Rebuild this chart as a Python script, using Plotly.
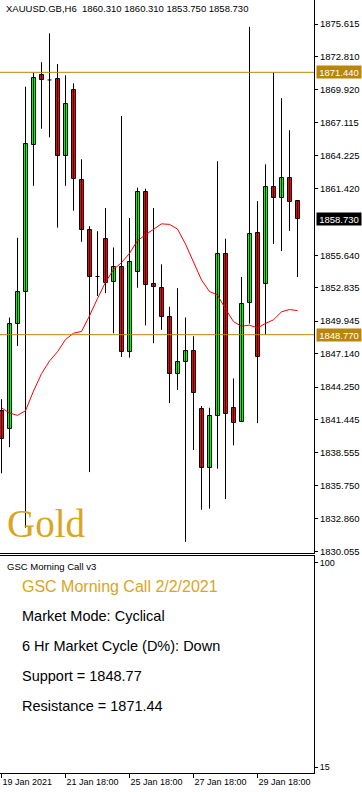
import plotly.graph_objects as go

# ---- data ----
idx = list(range(38))
opens = [1842.2, 1840.6, 1849.7, 1852.5, 1865.2, 1871.18, 1870.78, 1870.84, 1864.24, 1869.88,
         1862.11, 1857.85, 1853.8, 1857.0, 1853.31, 1854.58, 1847.3, 1854.21, 1861.08, 1853.13,
         1852.84, 1850.31, 1845.4, 1846.42, 1847.4, 1842.37, 1837.26, 1841.75, 1855.72, 1842.46,
         1841.25, 1851.49, 1857.58, 1853.19, 1861.57, 1860.55, 1862.28, 1860.31]
highs = [1843.2, 1850.25, 1857.15, 1870.2, 1871.44, 1872.31, 1874.81, 1872.16, 1871.18, 1870.49,
         1863.93, 1858.14, 1857.71, 1859.72, 1856.31, 1867.67, 1858.85, 1861.48, 1861.39, 1859.72,
         1854.85, 1851.18, 1852.79, 1850.25, 1848.64, 1842.61, 1842.46, 1863.76, 1857.06, 1844.99,
         1853.76, 1875.37, 1860.31, 1863.49, 1871.44, 1869.21, 1866.43, 1860.31]
lows = [1836.8, 1839.05, 1847.8, 1832.1, 1861.64, 1866.57, 1865.83, 1858.02, 1861.64, 1859.49,
        1856.8, 1836.9, 1852.11, 1852.36, 1848.89, 1846.85, 1846.79, 1852.82, 1849.57, 1848.03,
        1849.19, 1842.86, 1844.0, 1830.87, 1838.81, 1833.64, 1833.74, 1837.2, 1834.57, 1839.21,
        1841.25, 1849.73, 1841.13, 1848.77, 1856.62, 1856.0, 1857.74, 1853.75]
closes = [1839.8, 1849.7, 1852.5, 1865.25, 1870.95, 1870.75, 1870.78, 1864.21, 1868.68, 1862.22,
          1857.85, 1853.72, 1853.8, 1853.25, 1854.58, 1847.3, 1855.08, 1861.08, 1853.1, 1852.91,
          1850.3, 1845.4, 1846.4, 1847.4, 1843.76, 1837.26, 1841.75, 1855.72, 1841.9, 1841.13,
          1851.45, 1857.43, 1846.85, 1861.57, 1860.55, 1862.28, 1860.27, 1858.73]
ma = [1842.45, 1842.0, 1841.8, 1842.2, 1843.9, 1845.4, 1846.5, 1847.3, 1848.35, 1848.9,
      1849.05, 1850.4, 1851.9, 1853.3, 1854.4, 1855.0, 1855.8, 1856.9, 1857.4, 1857.9,
      1858.35, 1858.3, 1857.9, 1856.6, 1855.0, 1853.5, 1852.5, 1852.2, 1851.0, 1849.9,
      1849.5, 1849.6, 1849.35, 1849.75, 1850.05, 1850.75, 1850.95, 1850.85]

resistance = 1871.44
support = 1848.77
last_price = 1858.73

price_ticks = [1875.615, 1872.810, 1869.920, 1867.115, 1864.225, 1861.420, 1855.640, 1852.835,
               1849.945, 1847.140, 1844.250, 1841.445, 1838.555, 1835.750, 1832.860, 1830.055]
price_tick_text = ["%.3f" % v for v in price_ticks]
date_tick_pos = [0, 8, 16, 24, 32]
date_tick_text = ["19 Jan 2021", "21 Jan 18:00", "25 Jan 18:00", "27 Jan 18:00", "29 Jan 18:00"]
ind_ticks = [100, 15]

header = "XAUUSD.GB,H6\u00a0\u00a01860.310\u00a01860.310\u00a01853.750\u00a01858.730"
panel_title = "GSC Morning Call v3"
info_title = "GSC Morning Call 2/2/2021"
info_lines = ["Market Mode: Cyclical", "6 Hr Market Cycle (D%): Down",
              "Support = 1848.77", "Resistance = 1871.44"]

# ---- figure ----
W, H = 362, 792
XR = 314 / W
GOLD_LINE = "#B8860B"
GOLD_TEXT = "#DAA520"
FONT = "Liberation Sans"
UP, DOWN = "#00FF00", "#FF0000"
HALF = 0.25  # half body width in bar units

# wicks (and doji dashes) as one segmented line trace
wx, wy = [], []
for i, o, h, l, c in zip(idx, opens, highs, lows, closes):
    wx += [i, i, None]
    wy += [l, h, None]
    if o == c:
        wx += [i - HALF, i + HALF, None]
        wy += [o, c, None]

body_idx = [i for i in idx if opens[i] != closes[i]]
body_base = [min(opens[i], closes[i]) for i in body_idx]
body_len = [abs(closes[i] - opens[i]) for i in body_idx]
body_col = [UP if closes[i] > opens[i] else DOWN for i in body_idx]

fig = go.Figure()
fig.add_trace(go.Scatter(x=wx, y=wy, mode="lines", line=dict(color="black", width=1),
                         xaxis="x", yaxis="y", hoverinfo="skip", connectgaps=False))
fig.add_trace(go.Bar(x=body_idx, y=body_len, base=body_base, width=2 * HALF,
                     marker=dict(color=body_col, line=dict(color="black", width=1)),
                     xaxis="x", yaxis="y", hoverinfo="skip"))
fig.add_trace(go.Scatter(x=idx, y=ma, mode="lines", line=dict(color="#FF0000", width=1),
                         xaxis="x", yaxis="y", hoverinfo="skip"))
# empty indicator panel trace
fig.add_trace(go.Scatter(x=[None], y=[None], xaxis="x2", yaxis="y2", showlegend=False))

px_per = 11.574
y_top = 1875.615 + 24 / px_per
y_bot = 1875.615 - 529 / px_per
xr = [-1.5 / 8, (314 - 1.5) / 8]

axis_common = dict(showgrid=False, zeroline=False, showline=True, mirror=True,
                   linecolor="black", linewidth=1)

fig.update_layout(
    width=W, height=H, margin=dict(l=0, r=0, t=0, b=0),
    paper_bgcolor="white", plot_bgcolor="white", showlegend=False,
    bargap=0, bargroupgap=0, barmode="overlay", hovermode=False,
    xaxis=dict(domain=[0, XR], range=xr, anchor="y", showticklabels=False, ticks="",
               **axis_common),
    yaxis=dict(domain=[1 - 553 / H, 1], range=[y_bot, y_top], side="right", anchor="x",
               tickvals=price_ticks, ticktext=price_tick_text, ticks="outside", ticklen=3,
               tickcolor="black", automargin=False,
               tickfont=dict(family=FONT, size=9.5, color="black"), **axis_common),
    xaxis2=dict(domain=[0, XR], range=xr, anchor="y2", tickvals=date_tick_pos,
                ticktext=date_tick_text, ticks="outside", ticklen=4, tickcolor="black",
                ticklabelposition="outside right", automargin=False,
                tickfont=dict(family=FONT, size=9, color="black"), **axis_common),
    yaxis2=dict(domain=[1 - 773 / H, 1 - 556 / H], range=[12.5, 102.9], side="right",
                anchor="x2", tickvals=ind_ticks, ticks="outside", ticklen=3,
                tickcolor="black", automargin=False,
                tickfont=dict(family=FONT, size=9, color="black"), **axis_common),
)

for lvl in (resistance, support):
    fig.add_shape(type="line", xref="paper", yref="y", x0=0, x1=XR, y0=lvl, y1=lvl,
                  line=dict(color=GOLD_LINE, width=1))

def price_box(val, bg):
    fig.add_annotation(xref="paper", yref="y", x=316 / W, y=val, xanchor="left",
                       yanchor="middle", text="%.3f" % val, showarrow=False,
                       bgcolor=bg, borderpad=1, width=42, height=10, align="center",
                       font=dict(family=FONT, size=9.5, color="white"))

price_box(resistance, GOLD_LINE)
price_box(support, GOLD_LINE)
price_box(last_price, "black")

fig.add_annotation(xref="paper", yref="paper", x=4 / W, y=1 - 9 / H, xanchor="left",
                   yanchor="middle", text=header, showarrow=False,
                   font=dict(family=FONT, size=9.5, color="black"))
fig.add_annotation(xref="paper", yref="paper", x=5 / W, y=1 - 523 / H, xanchor="left",
                   yanchor="middle", text="Gold", showarrow=False,
                   font=dict(family="Liberation Serif", size=39, color=GOLD_TEXT))

fig.add_annotation(xref="paper", yref="paper", x=5 / W, y=1 - 566 / H, xanchor="left",
                   yanchor="middle", text=panel_title, showarrow=False,
                   font=dict(family=FONT, size=9.5, color="black"))
fig.add_annotation(xref="paper", yref="paper", x=20 / W, y=1 - 586 / H, xanchor="left",
                   yanchor="middle", text=info_title, showarrow=False,
                   font=dict(family=FONT, size=16, color=GOLD_TEXT))
for k, line in enumerate(info_lines):
    fig.add_annotation(xref="paper", yref="paper", x=20 / W, y=1 - (616 + 30 * k) / H,
                       xanchor="left", yanchor="middle", text=line, showarrow=False,
                       font=dict(family=FONT, size=14.5, color="black"))

fig.write_html("out.html",
               config={"displayModeBar": False},
               post_script="document.body.style.margin='0';document.body.style.padding='0';"
                           "document.body.style.overflow='hidden';")
